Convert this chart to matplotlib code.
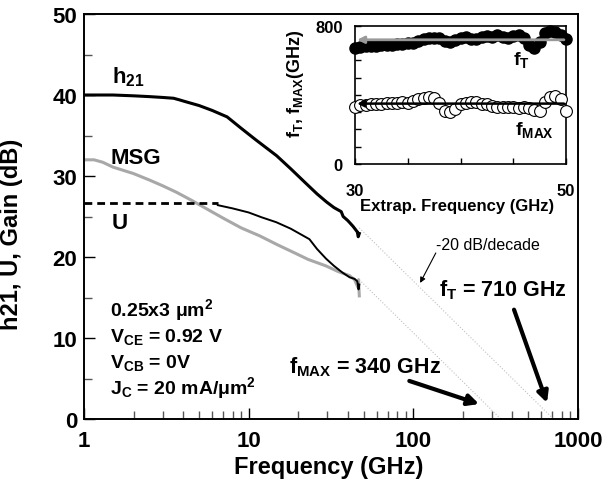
import matplotlib
matplotlib.use("Agg")
import matplotlib.pyplot as plt
from matplotlib.ticker import FixedLocator, MultipleLocator, LogLocator, NullFormatter

plt.rcParams['font.family'] = ['Liberation Sans', 'DejaVu Sans']
plt.rcParams['font.weight'] = 'bold'
plt.rcParams['mathtext.fontset'] = 'custom'
plt.rcParams['mathtext.rm'] = 'Liberation Sans:bold'
plt.rcParams['mathtext.it'] = 'Liberation Sans:bold'
plt.rcParams['mathtext.bf'] = 'Liberation Sans:bold'
plt.rcParams['mathtext.sf'] = 'Liberation Sans:bold'

# --- main panel data ---
h21_freq = [1, 1.5, 2, 2.5, 3, 3.5, 3.8, 4.1, 5, 6, 7.4, 9, 11, 14.8, 18, 22, 26,
            29.7, 33, 36.5, 37.5, 40, 43, 45.7, 46.3, 47]
h21_db = [40.0, 40.0, 39.9, 39.8, 39.7, 39.6, 39.4, 39.2, 38.7, 38.1, 37.3, 35.9, 34.5,
          32.5, 30.9, 29.2, 27.8, 26.8, 26.1, 25.6, 25.0, 24.5, 23.8, 23.1, 22.5, 22.9]

msg_freq = [1, 1.15, 1.3, 1.5, 2, 2.5, 3, 3.64, 4.5, 5.5, 7, 9, 11.7, 15, 18.6, 23,
            29.5, 35, 41, 44, 46, 46.5, 47]
msg_db = [32.0, 32.0, 31.7, 31.1, 30.3, 29.5, 28.8, 28.0, 27.0, 26.0, 24.8, 23.6, 22.6,
          21.5, 20.6, 19.7, 18.9, 18.2, 17.7, 17.2, 16.3, 17.2, 15.2]

u_dash_freq = [1, 6.5]
u_dash_db = [26.7, 26.7]
u_freq = [6.5, 8, 10, 12, 14.7, 18, 23.4, 26, 29.5, 33, 37, 41, 44, 45.7, 46.5, 47]
u_db = [26.4, 26.0, 25.5, 24.9, 24.3, 23.5, 22.2, 21.0, 19.8, 18.9, 18.1, 17.5, 17.3,
        17.0, 16.0, 16.6]

# -20 dB/decade extrapolations to f_T and f_MAX
ft_ext_freq = [47, 710]
ft_ext_db = [23.6, 0]
fmax_ext_freq = [47, 340]
fmax_ext_db = [17.2, 0]

# --- inset data: extracted fT / fMAX vs extrapolation frequency ---
extrap_freq = [30.0, 30.5, 31.0, 31.5, 32.0, 32.5, 33.0, 33.5, 34.0, 34.5, 35.0, 35.5,
               36.0, 36.5, 37.0, 37.5, 38.0, 38.5, 39.0, 39.5, 40.0, 40.5, 41.0, 41.5,
               42.0, 42.5, 43.0, 43.5, 44.0, 44.5, 45.0, 45.5, 46.0, 46.5, 47.0, 47.5,
               48.0, 48.5, 49.0, 49.5, 50.0]
ft_vals = [672, 678, 682, 684, 685, 688, 690, 692, 695, 697, 700, 703, 712, 722, 728, 732,
           728, 712, 705, 718, 730, 738, 726, 722, 735, 742, 738, 745, 738, 732, 740, 745,
           728, 690, 672, 705, 760, 772, 768, 750, 725]
fmax_vals = [330, 340, 342, 345, 348, 350, 352, 355, 355, 358, 355, 365, 378, 385, 388,
             382, 355, 310, 300, 318, 345, 355, 362, 358, 350, 345, 335, 330, 332, 328,
             330, 325, 328, 322, 315, 305, 360, 388, 395, 375, 305]
ft_mean = 720
fmax_mean = 350
inset_yticks = [0, 100, 200, 300, 400, 500, 600, 700, 800]
inset_xticks = [30, 35, 40, 45, 50]

fig = plt.figure(figsize=(6.05, 4.81), dpi=100)
ax = fig.add_axes([0.1388, 0.1268, 0.8165, 0.842])

ax.plot(h21_freq, h21_db, color='black', lw=2.2)
ax.plot(msg_freq, msg_db, color='#a8a8a8', lw=2.2)
ax.plot(u_dash_freq, u_dash_db, color='black', lw=2, dashes=(2.8, 1.8))
ax.plot(u_freq, u_db, color='black', lw=1.4)
ax.plot(ft_ext_freq, ft_ext_db, color='#c0c0c0', lw=0.8, ls=':')
ax.plot(fmax_ext_freq, fmax_ext_db, color='#c0c0c0', lw=0.8, ls=':')

ax.set_xscale('log')
ax.set_xlim(1, 1000)
ax.set_ylim(0, 50)
ax.xaxis.set_major_locator(FixedLocator([1, 10, 100, 1000]))
ax.set_xticklabels(['1', '10', '100', '1000'])
ax.xaxis.set_minor_locator(LogLocator(base=10, subs=range(2, 10)))
ax.xaxis.set_minor_formatter(NullFormatter())
ax.yaxis.set_major_locator(MultipleLocator(10))
ax.yaxis.set_minor_locator(MultipleLocator(5))
ax.tick_params(which='both', direction='in', width=1.0, labelsize=16)
ax.tick_params(which='major', length=8)
ax.tick_params(which='minor', length=6, color='#555555')
ax.tick_params(axis='x', pad=8)
ax.tick_params(axis='y', pad=5)
for s in ax.spines.values():
    s.set_linewidth(1.4)

ax.set_xlabel('Frequency (GHz)', fontsize=17, fontweight='bold')
ax.xaxis.set_label_coords(0.495, -0.089)
ax.set_ylabel('h21, U, Gain (dB)', fontsize=17, fontweight='bold')
ax.yaxis.set_label_coords(-0.1235, 0.459)

ax.text(1.48, 41.6, r'h$_{21}$', fontsize=16)
ax.text(1.44, 31.6, 'MSG', fontsize=16)
ax.text(1.48, 23.6, 'U', fontsize=16)

ax.text(1.44, 12.8, r'0.25x3 μm$^2$', fontsize=14)
ax.text(1.44, 9.6, r'V$_{CE}$ = 0.92 V', fontsize=14)
ax.text(1.44, 6.4, r'V$_{CB}$ = 0V', fontsize=14)
ax.text(1.44, 3.2, r'J$_C$ = 20 mA/μm$^2$', fontsize=14)

ax.text(144, 15.2, r'f$_T$ = 710 GHz', fontsize=15.5)
ax.text(17.5, 5.8, r'f$_{MAX}$ = 340 GHz', fontsize=15.5)
ax.text(138, 21.0, '-20 dB/decade', fontsize=11.5, fontweight='normal')

ax.annotate('', xy=(649, 2.0), xytext=(409, 13.5),
            arrowprops=dict(arrowstyle='-|>', lw=3, color='black', mutation_scale=16,
                            shrinkA=0, shrinkB=0))
ax.annotate('', xy=(251, 1.85), xytext=(94.6, 4.7),
            arrowprops=dict(arrowstyle='-|>', lw=3, color='black', mutation_scale=16,
                            shrinkA=0, shrinkB=0))
ax.annotate('', xy=(110, 16.8), xytext=(137, 20.5),
            arrowprops=dict(arrowstyle='-|>', lw=0.8, color='black', mutation_scale=8,
                            shrinkA=0, shrinkB=0))

# inset
axi = fig.add_axes([0.5868, 0.657, 0.3488, 0.2869])
axi.plot(extrap_freq, ft_vals, 'o', color='black', ms=8, clip_on=False, zorder=3)
axi.plot(extrap_freq, fmax_vals, 'o', mfc='white', mec='black', mew=0.8, ms=8.5,
         clip_on=False, zorder=3)
axi.annotate('', xy=(30.2, ft_mean), xytext=(49.8, ft_mean),
             arrowprops=dict(arrowstyle='-|>', lw=2, color='#999999', mutation_scale=10,
                             shrinkA=0, shrinkB=0), zorder=4)
axi.annotate('', xy=(30.2, fmax_mean), xytext=(49.8, fmax_mean),
             arrowprops=dict(arrowstyle='-|>', lw=1.8, color='black', mutation_scale=10,
                             shrinkA=0, shrinkB=0), zorder=4)
axi.set_xlim(30, 50)
axi.set_ylim(0, 800)
axi.xaxis.set_major_locator(FixedLocator(inset_xticks))
axi.set_xticklabels(['30', '', '', '', '50'])
axi.yaxis.set_major_locator(FixedLocator(inset_yticks))
axi.set_yticklabels(['0', '', '', '', '', '', '', '', '800'])
axi.tick_params(direction='in', length=4, width=1.0, labelsize=12)
axi.tick_params(axis='x', pad=14)
axi.tick_params(axis='y', pad=9)
for s in axi.spines.values():
    s.set_linewidth(1.2)
axi.text(0.483, -0.3, 'Extrap. Frequency (GHz)', transform=axi.transAxes,
         ha='center', va='center', fontsize=12)
axi.text(-0.284, 0.587, r'f$_T$, f$_{MAX}$(GHz)', transform=axi.transAxes,
         ha='center', va='center', rotation=90, fontsize=13)
axi.text(45.0, 580, r'f$_T$', fontsize=14)
axi.text(45.2, 174, r'f$_{MAX}$', fontsize=14)

fig.savefig('out.png', dpi=100)
